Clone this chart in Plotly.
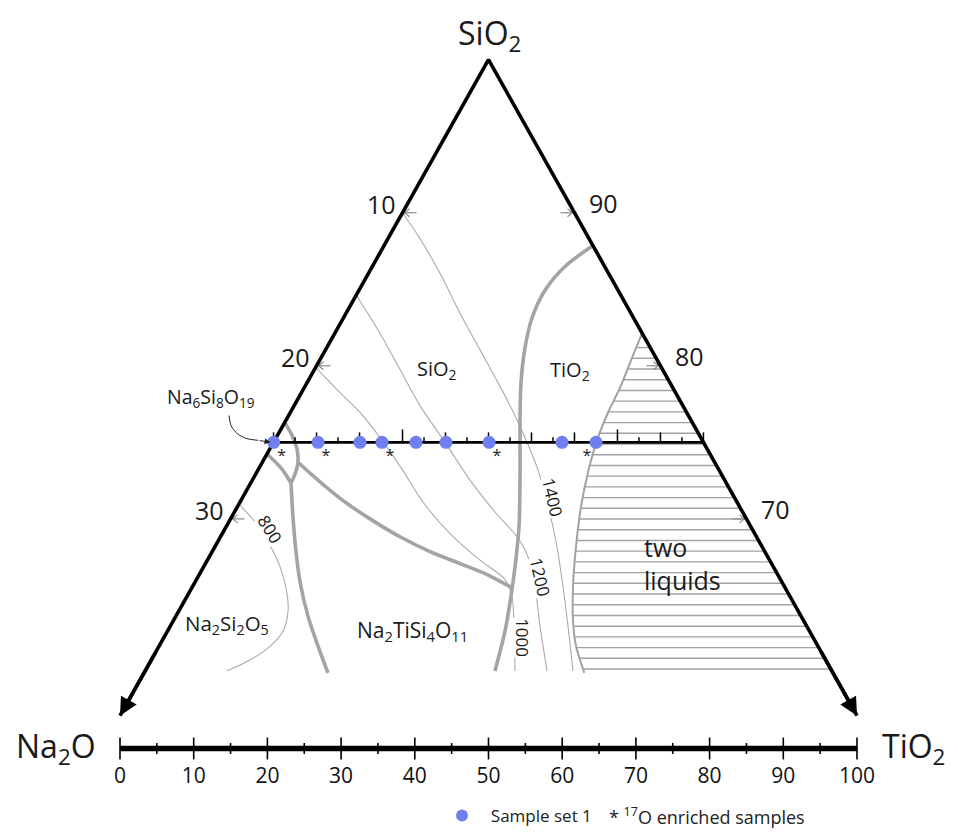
import plotly.graph_objects as go
import numpy as np

FONT = "Open Sans, Noto Sans, DejaVu Sans, sans-serif"
AXFONT = "Liberation Sans Narrow, Open Sans, sans-serif"

# ---------------- data ----------------
# frame: x = position on the Na2O–TiO2 scale (0–100); c = 100 − SiO2 (mol %), 0 at the SiO2 apex
BASE_C = 42.86      # level of the two lower corners of the triangle
SCALE_C = 45.0      # level of the lower 0–100 scale
SAMPLE_C = 25.0     # level of the sample line

side_tick_c = [10, 20, 30]
left_tick_labels = ["10", "20", "30"]
right_tick_labels = ["90", "80", "70"]

scale_major = [0, 10, 20, 30, 40, 50, 60, 70, 80, 90, 100]
scale_minor = [5, 15, 25, 35, 45, 55, 65, 75, 85, 95]
scale_labels = ["0", "10", "20", "30", "40", "50", "60", "70", "80", "90", "100"]

sample_x = [20.85, 26.87, 32.56, 35.55, 40.16, 44.23, 50.07, 59.97, 64.59]
enriched = [1, 1, 0, 1, 0, 0, 1, 0, 1]

# thick phase boundaries
tio2_bnd_x = [64.17, 60.38, 57.67, 55.90, 54.95, 54.41, 54.28, 54.28, 54.14, 53.60, 53.05, 52.24, 50.88]
tio2_bnd_c = [12.14, 13.51, 15.06, 16.88, 18.83, 21.10, 23.38, 27.27, 30.52, 33.12, 35.06, 37.34, 39.94]
ns_upper_x = [22.35, 23.34, 24.02, 24.15, 23.75, 23.20]
ns_upper_c = [23.70, 24.55, 25.45, 26.30, 27.08, 27.66]
ns_lower_x = [20.00, 21.98, 23.20]
ns_lower_c = [25.78, 26.75, 27.66]
ns_bnd_x = [23.20, 23.47, 23.88, 24.42, 25.51, 26.87, 28.22]
ns_bnd_c = [27.66, 29.87, 32.14, 34.09, 36.36, 38.31, 40.06]
nts_bnd_x = [24.15, 25.78, 27.82, 30.53, 33.92, 37.99, 42.06, 46.13, 49.53, 53.20]
nts_bnd_c = [26.30, 27.01, 27.86, 28.90, 30.00, 31.17, 32.14, 32.92, 33.57, 34.50]

# isotherms (°C)
iso800_x = [16.13, 18.32, 20.08, 21.71, 22.66, 22.80, 22.12, 20.08, 17.37, 14.52]
iso800_c = [29.03, 30.20, 31.49, 33.12, 34.87, 36.04, 37.34, 38.44, 39.29, 39.94]
iso1000_x = [26.55, 29.85, 32.57, 35.55, 38.26, 41.11, 44.78, 48.58, 52.24, 53.19, 53.46, 53.60]
iso1000_c = [20.10, 21.75, 23.05, 24.87, 26.75, 28.90, 30.97, 32.60, 33.96, 35.06, 37.01, 39.94]
iso1200_x = [32.05, 35.01, 37.72, 40.71, 44.10, 47.49, 50.88, 53.87, 55.36, 56.31, 56.99, 57.94]
iso1200_c = [15.39, 17.66, 20.00, 22.60, 25.00, 27.47, 29.55, 31.17, 32.47, 34.42, 37.01, 39.94]
iso1400_x = [38.33, 40.71, 43.42, 46.13, 48.85, 51.29, 53.19, 54.95, 56.58, 57.94, 59.16, 60.11, 60.79, 61.47]
iso1400_c = [10.00, 11.69, 13.96, 16.56, 18.96, 21.10, 22.86, 24.68, 26.62, 28.90, 31.49, 34.42, 37.01, 39.94]

# two-liquid field boundary
twoliq_x = [70.84, 69.47, 67.85, 66.22, 64.72, 63.50, 62.55, 61.87, 61.47, 61.47, 61.87, 62.82, 63.00]
twoliq_c = [17.86, 19.48, 21.43, 23.05, 24.87, 26.95, 29.22, 31.82, 34.42, 36.69, 38.31, 39.81, 40.06]
twoliq_bottom_c = 39.81

# leader for Na6Si8O19
leader_x = [14.79, 15.06, 15.88, 17.10, 18.73]
leader_c = [23.25, 23.90, 24.42, 24.74, 24.87]

# ---------------- geometry helpers ----------------
W, H = 958, 834
PXX, PXC = 7.37, 15.4            # pixels per x unit / per c unit
X0PX, C0PX = 120, 60             # pixel position of x=0 / c=0
x_range = [-X0PX / PXX, (W - X0PX) / PXX]
c_range = [(H - C0PX) / PXC, -C0PX / PXC]


def dx(px):
    return px / PXX


def dc(px):
    return px / PXC


def left_side(c):
    return 50 - 50 * np.asarray(c) / BASE_C


def right_side(c):
    return 50 + 50 * np.asarray(c) / BASE_C


fig = go.Figure()


def add_line(x, y, color, width, smooth=False):
    fig.add_trace(go.Scatter(x=x, y=y, mode="lines", hoverinfo="skip", showlegend=False,
                             line=dict(color=color, width=width,
                                       shape="spline" if smooth else "linear",
                                       smoothing=0.8 if smooth else None)))


THICK = "#a4a4a4"
THIN = "#ababab"
HATCH = "#a2a2a2"

# hatching of the two-liquid field
hx, hy = [], []
c = twoliq_bottom_c
while c > twoliq_c[0] + 0.2:
    xl = float(np.interp(c, twoliq_c, twoliq_x))
    hx += [xl, float(right_side(c)), None]
    hy += [c, c, None]
    c -= 0.70
add_line(hx, hy, HATCH, 1.4)
add_line(twoliq_x, twoliq_c, HATCH, 2.0, smooth=True)

# isotherms
for xs, cs in [(iso800_x, iso800_c), (iso1000_x, iso1000_c), (iso1200_x, iso1200_c), (iso1400_x, iso1400_c)]:
    add_line(xs, cs, THIN, 1.1, smooth=True)

# thick boundaries
for xs, cs in [(tio2_bnd_x, tio2_bnd_c), (ns_upper_x, ns_upper_c), (ns_lower_x, ns_lower_c),
               (ns_bnd_x, ns_bnd_c), (nts_bnd_x, nts_bnd_c)]:
    add_line(xs, cs, THICK, 3.6, smooth=True)

# side tick chevrons
tx, ty = [], []
for cc in side_tick_c:
    xv = float(left_side(cc)) + dx(2)
    tx += [xv + dx(12), xv, None, xv + dx(5), xv, xv + dx(5), None]
    ty += [cc, cc, None, cc - dc(4), cc, cc + dc(4), None]
    xv = float(right_side(cc)) - dx(2)
    tx += [xv - dx(12), xv, None, xv - dx(5), xv, xv - dx(5), None]
    ty += [cc, cc, None, cc - dc(4), cc, cc + dc(4), None]
add_line(tx, ty, "#8c8c8c", 1.2)

# triangle
add_line([0, 50, 100], [BASE_C, 0, BASE_C], "black", 3.6)

# sample line + ticks
sl_l, sl_r = float(left_side(SAMPLE_C)), float(right_side(SAMPLE_C))
add_line([sl_l, sl_r], [SAMPLE_C, SAMPLE_C], "black", 2.6)
stx, sty = [], []
for k in range(21):
    xv = sl_l + (sl_r - sl_l) * k / 20
    h = 5 if k % 2 else (13 if k in (6, 16) else 10)
    stx += [xv, xv, None]
    sty += [SAMPLE_C, SAMPLE_C - dc(h), None]
add_line(stx, sty, "black", 1.5)

# lower 0-100 scale
add_line([0, 100], [SCALE_C, SCALE_C], "black", 5.5)
btx, bty = [], []
for v in scale_major:
    btx += [v, v, None]
    bty += [SCALE_C - dc(11), SCALE_C + dc(11), None]
for v in scale_minor:
    btx += [v, v, None]
    bty += [SCALE_C - dc(5.5), SCALE_C + dc(5.5), None]
add_line(btx, bty, "black", 1.6)
fig.add_trace(go.Scatter(x=scale_major, y=[SCALE_C + dc(29)] * len(scale_major), mode="text",
                         text=scale_labels, textfont=dict(family=AXFONT, size=21, color="#111"),
                         hoverinfo="skip", showlegend=False))

# leader arrow for Na6Si8O19
add_line(leader_x, leader_c, "#222", 1.0, smooth=True)

# samples
fig.add_trace(go.Scatter(x=sample_x, y=[SAMPLE_C] * len(sample_x), mode="markers",
                         name="\u00a0\u00a0Sample set 1", hoverinfo="skip",
                         marker=dict(color="#6f80ee", size=13)))
ast_x = [sx + (dx(8) if i < len(sample_x) - 1 else -dx(9))
         for i, (sx, e) in enumerate(zip(sample_x, enriched)) if e]
fig.add_trace(go.Scatter(x=ast_x, y=[SAMPLE_C + dc(15)] * len(ast_x), mode="text", text=["*"] * len(ast_x),
                         textfont=dict(family=FONT, size=16, color="#222"), hoverinfo="skip", showlegend=False))

ann = []


def label(x, y, text, size, angle=0, xanchor="center", align="center", bg=None, color="#1a1a1a"):
    ann.append(dict(x=x, y=y, xref="x", yref="y", text=text, showarrow=False, textangle=angle,
                    xanchor=xanchor, yanchor="middle", align=align,
                    font=dict(family=FONT, size=size, color=color),
                    bgcolor=bg, borderpad=0))


# arrowheads on the triangle sides
for (hxp, hcp, txp, tcp) in [(0, BASE_C, 5, BASE_C * 0.9), (100, BASE_C, 95, BASE_C * 0.9)]:
    ann.append(dict(x=hxp, y=hcp, ax=txp, ay=tcp, xref="x", yref="y", axref="x", ayref="y", text="",
                    showarrow=True, arrowhead=2, arrowsize=1.0, arrowwidth=3.6, arrowcolor="black"))
ann.append(dict(x=sl_l - dx(3), y=SAMPLE_C, ax=leader_x[-1], ay=leader_c[-1], xref="x", yref="y",
                axref="x", ayref="y", text="", showarrow=True, arrowhead=2, arrowsize=1.2,
                arrowwidth=1.0, arrowcolor="#222"))

# corner labels
label(50.07, -1.62, "SiO<sub>2</sub>", 32)
ann.append(dict(x=-2.99, y=44.94, xref="x", yref="y", text="Na<sub>2</sub>O", showarrow=False,
                xanchor="right", yanchor="middle", font=dict(family=FONT, size=32, color="#1a1a1a")))
ann.append(dict(x=103.12, y=44.94, xref="x", yref="y", text="TiO<sub>2</sub>", showarrow=False,
                xanchor="left", yanchor="middle", font=dict(family=FONT, size=32, color="#1a1a1a")))

# side tick labels
for cc, t in zip(side_tick_c, left_tick_labels):
    label(float(left_side(cc)) - dx(21), cc - dc(9), t, 25)
for cc, t in zip(side_tick_c, right_tick_labels):
    label(float(right_side(cc)) + dx(29), cc - dc(10), t, 25)

# field labels
label(43.0, 20.26, "SiO<sub>2</sub>", 20)
label(61.06, 20.32, "TiO<sub>2</sub>", 20)
label(39.62, 37.34, "Na<sub>2</sub>TiSi<sub>4</sub>O<sub>11</sub>", 21)
label(14.52, 36.88, "Na<sub>2</sub>Si<sub>2</sub>O<sub>5</sub>", 20.5)
label(12.35, 22.08, "Na<sub>6</sub>Si<sub>8</sub>O<sub>19</sub>", 19.5)
label(70.97, 32.92, "two<br>liquids", 25, xanchor="left", align="left")

# isotherm labels
label(20.35, 30.71, "800", 17, angle=58, bg="white")
label(58.62, 28.57, "1400", 17, angle=77, bg="white")
label(56.99, 33.77, "1200", 17, angle=77, bg="white")
label(54.68, 37.79, "1000", 17, angle=90, bg="white")

# legend companion text
ann.append(dict(x=607 / W, y=1 - 821 / H, xref="paper", yref="paper", text="* <sup>17</sup>O enriched samples",
                showarrow=False, xanchor="left", yanchor="middle",
                font=dict(family=FONT, size=18, color="#222")))

fig.update_layout(
    width=W, height=H, margin=dict(l=0, r=0, t=0, b=0),
    paper_bgcolor="white", plot_bgcolor="white",
    xaxis=dict(range=x_range, visible=False, fixedrange=True),
    yaxis=dict(range=c_range, visible=False, fixedrange=True),
    annotations=ann,
    showlegend=True,
    legend=dict(orientation="h", x=442 / W, xanchor="left", y=1 - 821 / H, yanchor="middle",
                font=dict(family=FONT, size=17, color="#222"), bgcolor="rgba(0,0,0,0)",
                itemsizing="constant"),
)

fig.write_html("out.html")
